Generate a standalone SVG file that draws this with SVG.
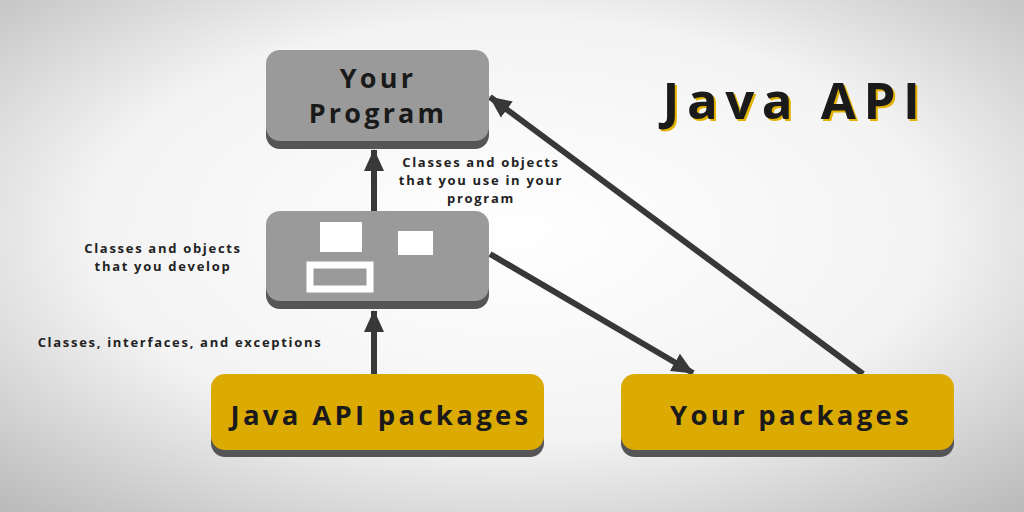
<svg xmlns="http://www.w3.org/2000/svg" width="1024" height="512" viewBox="0 0 1024 512">
<defs>
<radialGradient id="bg" cx="50%" cy="45%" r="75%">
<stop offset="0" stop-color="#ffffff"/>
<stop offset="0.55" stop-color="#f3f3f3"/>
<stop offset="1" stop-color="#b8b8b8"/>
</radialGradient>
<marker id="ah" viewBox="0 0 22 20" refX="21" refY="10" markerWidth="22" markerHeight="20" markerUnits="userSpaceOnUse" orient="auto">
<path d="M0,0 L22,10 L0,20 Z" fill="#383838"/>
</marker>
<style>
.shadow{fill:#555555}
.gray{fill:#9a9a9a}
.gold{fill:#dcab03}
.conn{stroke:#383838;stroke-width:6;fill:none;marker-end:url(#ah)}
.big{font-family:"Open Sans","DejaVu Sans",sans-serif;font-weight:bold;fill:#1a1a1a;text-anchor:middle}
.lbl{font-family:"Open Sans","DejaVu Sans",sans-serif;font-weight:bold;font-size:13px;letter-spacing:1.7px;fill:#222;text-anchor:middle}
.white{fill:#ffffff}
</style>
</defs>
<rect width="1024" height="512" fill="url(#bg)"/>

<g id="connectors">
<line class="conn" x1="374" y1="211" x2="374" y2="150"/>
<line class="conn" x1="374" y1="374" x2="374" y2="311"/>
<line class="conn" x1="490" y1="254" x2="693" y2="373"/>
<line class="conn" x1="863" y1="374" x2="490" y2="97"/>
</g>

<g id="your-program">
<rect class="shadow" x="266" y="57" width="223" height="92" rx="14"/>
<rect class="gray" x="266" y="50" width="223" height="91" rx="14"/>
<text class="big" x="378" y="88" font-size="27" letter-spacing="3.2">Your</text>
<text class="big" x="378" y="123" font-size="27" letter-spacing="3.2">Program</text>
</g>

<g id="classes-box">
<rect class="shadow" x="266" y="218" width="223" height="91" rx="14"/>
<rect class="gray" x="266" y="211" width="223" height="90" rx="14"/>
<rect class="white" x="320" y="222" width="42" height="30"/>
<rect class="white" x="398" y="231" width="35" height="24"/>
<rect x="310" y="265" width="60" height="24" fill="none" stroke="#ffffff" stroke-width="7"/>
</g>

<g id="java-api-packages">
<rect class="shadow" x="211" y="381" width="333" height="76" rx="14"/>
<rect class="gold" x="211" y="374" width="333" height="76" rx="14"/>
<text class="big" x="381" y="425" font-size="27.5" letter-spacing="3.3">Java API packages</text>
</g>

<g id="your-packages">
<rect class="shadow" x="621" y="381" width="333" height="76" rx="14"/>
<rect class="gold" x="621" y="374" width="333" height="76" rx="14"/>
<text class="big" x="791" y="425" font-size="27.5" letter-spacing="3.3">Your packages</text>
</g>

<g id="title">
<text class="big" x="797" y="121" font-size="51" letter-spacing="7.5" style="fill:#e2b200">Java API</text>
<text class="big" x="795" y="119" font-size="51" letter-spacing="7.5">Java API</text>
</g>

<g id="labels">
<text class="lbl" x="481" y="167">Classes and objects</text>
<text class="lbl" x="481" y="185">that you use in your</text>
<text class="lbl" x="481" y="203">program</text>
<text class="lbl" x="163" y="253">Classes and objects</text>
<text class="lbl" x="163" y="271">that you develop</text>
<text class="lbl" x="180" y="347">Classes, interfaces, and exceptions</text>
</g>
</svg>
